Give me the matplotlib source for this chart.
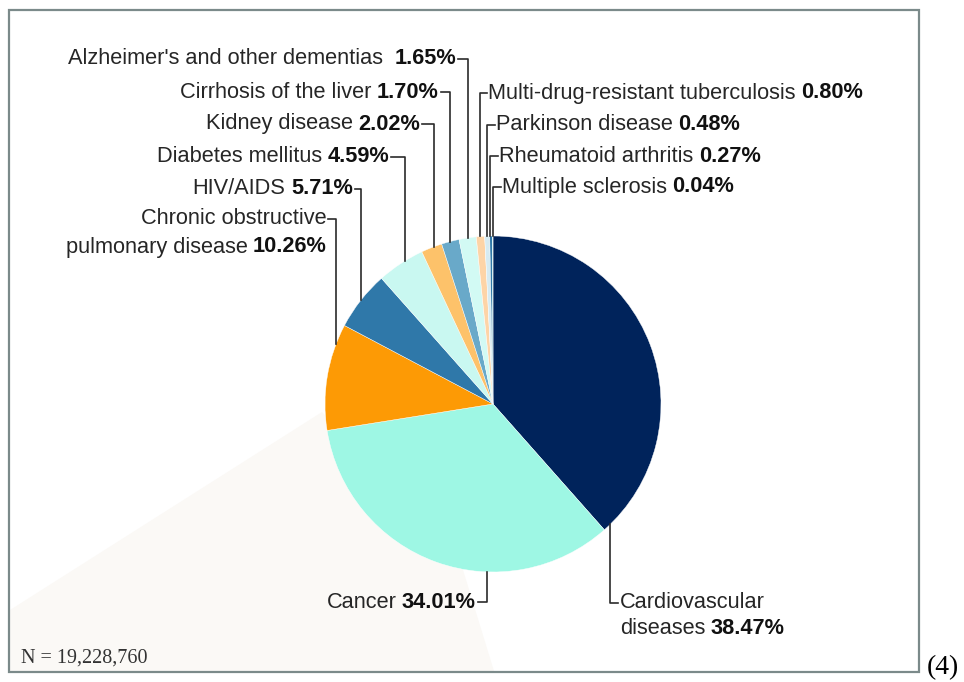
import matplotlib
matplotlib.use("Agg")
import numpy as np
import matplotlib.pyplot as plt
from matplotlib.patches import Rectangle, Polygon

plt.rcParams['font.family'] = ['Liberation Sans', 'DejaVu Sans']

# data
causes = ["Cardiovascular diseases", "Cancer", "Chronic obstructive pulmonary disease",
          "HIV/AIDS", "Diabetes mellitus", "Kidney disease", "Cirrhosis of the liver",
          "Alzheimer's and other dementias", "Multi-drug-resistant tuberculosis",
          "Parkinson disease", "Rheumatoid arthritis", "Multiple sclerosis"]
shares = [38.47, 34.01, 10.26, 5.71, 4.59, 2.02, 1.70, 1.65, 0.80, 0.48, 0.27, 0.04]
pct_labels = ["38.47%", "34.01%", "10.26%", "5.71%", "4.59%", "2.02%", "1.70%",
              "1.65%", "0.80%", "0.48%", "0.27%", "0.04%"]
n_text = "N = 19,228,760"

colors = ["#00235b", "#9ef7e4", "#fd9a05", "#2f78a9", "#c9f8f1", "#fdc26a",
          "#69a9c9", "#d2faf4", "#fdd4a7", "#d6ebf2", "#2f78a9", "#9ef7e4"]

W, H = 964, 682
fig = plt.figure(figsize=(W / 100, H / 100), dpi=100)
ax = fig.add_axes([0, 0, 1, 1])

def py(y):
    # pixel row (from top) -> data y
    return H - y

cx, cy, R = 493, 404, 168

# faint background shading (scan artefact)
shade = [(10, 610), (322, 412), (460, 560), (494, 671), (10, 671)]
ax.add_patch(Polygon([(x, py(y)) for x, y in shade], closed=True,
                     facecolor="#fbf9f6", edgecolor="none", zorder=0))

wedges, _ = ax.pie(shares, colors=colors, startangle=90, counterclock=False,
                   center=(cx, py(cy)), radius=R,
                   wedgeprops=dict(linewidth=0.3, edgecolor="white"))
ax.set_xlim(0, W)
ax.set_ylim(0, H)
ax.set_aspect('auto')
ax.axis('off')

ax.add_patch(Rectangle((9, py(672)), 910, 662, fill=False, edgecolor="#7b8a8a", lw=1.6, zorder=5))

renderer = fig.canvas.get_renderer()
fs = 15.7
lc = "#2b2b2b"
tc = "#262626"
gap = 5.5

def anchor(i, frac):
    w = wedges[i]
    a = np.deg2rad(w.theta1 + frac * (w.theta2 - w.theta1))
    return cx + R * np.cos(a), py(cy) + R * np.sin(a)

def text_left(x, y, name, pct):
    t = ax.text(x, py(y), name, ha='left', va='center', fontsize=fs, color=tc)
    bb = t.get_window_extent(renderer)
    if pct:
        ax.text(bb.x1 + gap, py(y), pct, ha='left', va='center', fontsize=fs,
                fontweight='bold', color="#111111")

def text_right(x, y, name, pct):
    if pct:
        t = ax.text(x, py(y), pct, ha='right', va='center', fontsize=fs,
                    fontweight='bold', color="#111111")
        bb = t.get_window_extent(renderer)
        x = bb.x0 - gap
    ax.text(x, py(y), name, ha='right', va='center', fontsize=fs, color=tc)

# top-left labels: (index, label row y, text right end, frac in wedge)
left_top = [(7, 59, 456, 0.5), (6, 92, 439, 0.5), (5, 124, 420, 0.4),
            (4, 157, 389, 0.4), (3, 189, 353, 0.5)]
for i, y, xr, frac in left_top:
    name = causes[i] + (" " if i == 7 else "")
    text_right(xr, y, name, pct_labels[i])
    ax_, ay_ = anchor(i, frac)
    ax.plot([xr + 2, ax_, ax_], [py(y), py(y), ay_], color=lc, lw=1.2, zorder=4)

# COPD, two lines
ax_, ay_ = anchor(2, 0.19)
text_right(327, 219, "Chronic obstructive", None)
text_right(327, 247, "pulmonary disease", pct_labels[2])
ax.plot([328, ax_, ax_], [py(219), py(219), ay_], color=lc, lw=1.2, zorder=4)

# top-right labels
right_top = [(8, 93, 488, 0.5), (9, 125, 496, 0.5), (10, 156, 499, 1.0), (11, 187, 502, 0.5)]
for i, y, xl, frac in right_top:
    text_left(xl, y, causes[i], pct_labels[i])
    ax_, ay_ = anchor(i, frac)
    ax.plot([xl - 1, ax_, ax_], [py(y), py(y), ay_], color=lc, lw=1.2, zorder=4)

# Cancer
ax_, ay_ = anchor(1, 0.645)
text_right(476, 602, causes[1], pct_labels[1])
ax.plot([ax_, ax_, 478], [ay_, py(602), py(602)], color=lc, lw=1.2, zorder=4)

# Cardiovascular, two lines
ax_, ay_ = anchor(0, 0.02)
text_left(620, 603, "Cardiovascular", None)
text_left(620, 629, "diseases", pct_labels[0])
ax.plot([ax_, ax_, 618], [ay_, py(603), py(603)], color=lc, lw=1.2, zorder=4)

ax.text(21, py(658), n_text, ha='left', va='center', fontsize=14.5,
        family='Liberation Serif', color="#333333")
fig.text(927 / W, py(668) / H, "(4)", ha='left', va='center', fontsize=20,
         family='Liberation Serif', color="black")

fig.savefig("out.png", dpi=100)
